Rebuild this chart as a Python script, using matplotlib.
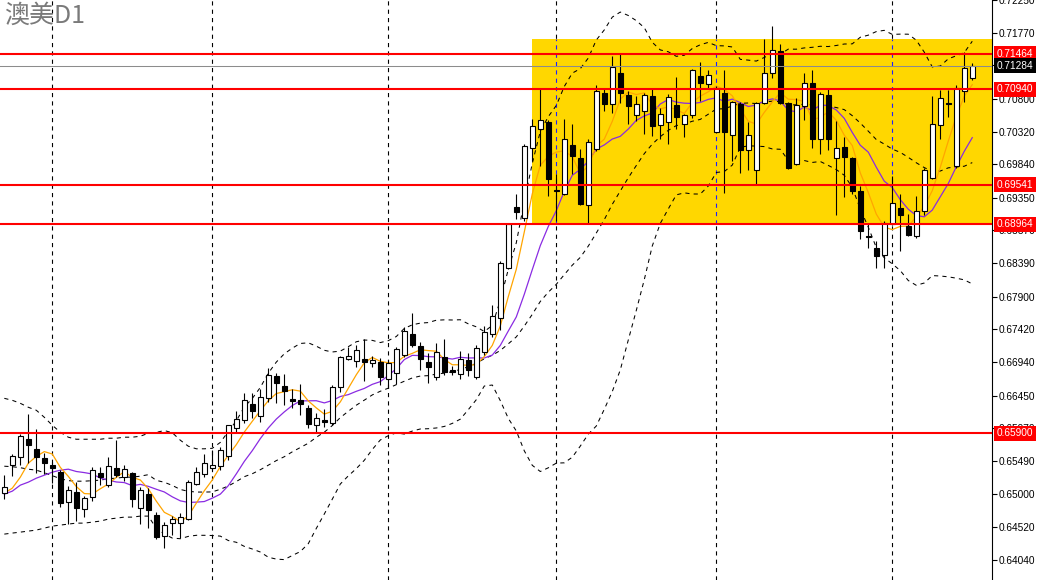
import numpy as np
import pandas as pd
import matplotlib
matplotlib.use("Agg")
import matplotlib.pyplot as plt
from matplotlib.patches import Rectangle

plt.rcParams['font.family'] = ['Noto Sans CJK SC', 'DejaVu Sans']
plt.rcParams['lines.scale_dashes'] = False

title = "澳美D1"

# daily candles, AUDUSD
opens = [0.65018, 0.65428, 0.65546, 0.65809, 0.65663, 0.65531, 0.65428, 0.65326, 0.64887, 0.65033,
         0.64784, 0.64960, 0.65311, 0.65136, 0.65384, 0.65253, 0.65311, 0.64799, 0.65004, 0.64696,
         0.64389, 0.64579, 0.64579, 0.64638, 0.65150, 0.65297, 0.65384, 0.65414, 0.65560, 0.65970,
         0.66087, 0.66321, 0.66146, 0.66409, 0.66731, 0.66585, 0.66395, 0.66380, 0.66263, 0.66014,
         0.66087, 0.66043, 0.66570, 0.66980, 0.66951, 0.66980, 0.66922, 0.66936, 0.66687, 0.66775,
         0.67039, 0.67346, 0.67171, 0.66936, 0.66717, 0.67010, 0.66819, 0.66761, 0.66966, 0.66717,
         0.67083, 0.67346, 0.67580, 0.68327, 0.69220, 0.69059, 0.70084, 0.70362, 0.70465, 0.69469,
         0.69410, 0.70128, 0.69938, 0.69249, 0.70069, 0.70889, 0.70728, 0.71182, 0.70860, 0.70567,
         0.70626, 0.70845, 0.70421, 0.70465, 0.70713, 0.70435, 0.70567, 0.71138, 0.71021, 0.70318,
         0.70889, 0.70274, 0.70728, 0.70055, 0.69762, 0.70743, 0.71182, 0.71504, 0.70743, 0.69850,
         0.70699, 0.71036, 0.70216, 0.70860, 0.69938, 0.70099, 0.69938, 0.69454, 0.68796, 0.68620,
         0.68517, 0.68971, 0.69206, 0.68942, 0.68796, 0.69162, 0.69645, 0.70421, 0.70743, 0.69820,
         0.70918, 0.71109]
highs = [0.65282, 0.65589, 0.65882, 0.66175, 0.65955, 0.65604, 0.65472, 0.65355, 0.65121, 0.65180,
         0.64975, 0.65399, 0.65399, 0.65546, 0.65794, 0.65428, 0.65326, 0.65106, 0.65092, 0.64740,
         0.64594, 0.64682, 0.64726, 0.65209, 0.65399, 0.65589, 0.65648, 0.65692, 0.66014, 0.66219,
         0.66482, 0.66482, 0.66541, 0.66848, 0.66775, 0.66761, 0.66541, 0.66614, 0.66307, 0.66190,
         0.66248, 0.66600, 0.67024, 0.67156, 0.67185, 0.67273, 0.67024, 0.66995, 0.66966, 0.67156,
         0.67449, 0.67654, 0.67229, 0.67068, 0.67214, 0.67273, 0.66878, 0.67097, 0.67068, 0.67185,
         0.67463, 0.67771, 0.68430, 0.68986, 0.69410, 0.70142, 0.70508, 0.70962, 0.70494, 0.69703,
         0.70508, 0.70435, 0.70069, 0.70216, 0.71006, 0.70962, 0.71431, 0.71460, 0.70918, 0.70845,
         0.70889, 0.70962, 0.70670, 0.70874, 0.71123, 0.70582, 0.71240, 0.71343, 0.71226, 0.70992,
         0.71226, 0.70772, 0.70757, 0.70465, 0.70757, 0.71680, 0.71870, 0.71606, 0.70757, 0.70816,
         0.71182, 0.71226, 0.70904, 0.70962, 0.70479, 0.70245, 0.69952, 0.69528, 0.68971, 0.68722,
         0.69015, 0.69674, 0.69410, 0.69118, 0.69381, 0.69791, 0.70845, 0.70933, 0.70933, 0.71006,
         0.71489, 0.71328]
lows = [0.64931, 0.65267, 0.65428, 0.65458, 0.65311, 0.65297, 0.65165, 0.64814, 0.64565, 0.64609,
        0.64667, 0.64901, 0.65136, 0.65106, 0.65253, 0.65194, 0.64814, 0.64565, 0.64506, 0.64345,
        0.64213, 0.64404, 0.64360, 0.64623, 0.65136, 0.65253, 0.65355, 0.65355, 0.65502, 0.65912,
        0.66043, 0.66116, 0.66058, 0.66351, 0.66336, 0.66307, 0.66263, 0.66160, 0.65970, 0.65912,
        0.65985, 0.66014, 0.66497, 0.66966, 0.66863, 0.66658, 0.66863, 0.66600, 0.66570, 0.66614,
        0.67010, 0.67156, 0.66819, 0.66629, 0.66673, 0.66746, 0.66746, 0.66687, 0.66731, 0.66687,
        0.67039, 0.67302, 0.67405, 0.68312, 0.69044, 0.69015, 0.69894, 0.69820, 0.69381, 0.69015,
        0.69396, 0.69703, 0.69249, 0.68971, 0.70040, 0.70626, 0.70596, 0.70743, 0.70435, 0.70479,
        0.70289, 0.70260, 0.70216, 0.70142, 0.70362, 0.70245, 0.70523, 0.70772, 0.70962, 0.70304,
        0.69425, 0.69894, 0.69718, 0.69762, 0.69557, 0.70728, 0.71109, 0.70728, 0.69776, 0.69835,
        0.70494, 0.70084, 0.69996, 0.70055, 0.69103, 0.69367, 0.69410, 0.68752, 0.68620, 0.68327,
        0.68327, 0.68957, 0.68576, 0.68796, 0.68766, 0.69103, 0.69630, 0.70216, 0.70538, 0.69791,
        0.70757, 0.71079]
closes = [0.65106, 0.65560, 0.65853, 0.65721, 0.65546, 0.65458, 0.65384, 0.64872, 0.65062, 0.64799,
          0.64945, 0.65355, 0.65253, 0.65414, 0.65282, 0.65370, 0.64931, 0.65062, 0.64770, 0.64374,
          0.64550, 0.64638, 0.64667, 0.65180, 0.65326, 0.65458, 0.65428, 0.65648, 0.66014, 0.66102,
          0.66380, 0.66219, 0.66424, 0.66746, 0.66629, 0.66512, 0.66365, 0.66321, 0.66029, 0.66116,
          0.66058, 0.66570, 0.67010, 0.67024, 0.67112, 0.66936, 0.66966, 0.66717, 0.66922, 0.67127,
          0.67390, 0.67185, 0.66980, 0.66863, 0.67083, 0.66790, 0.66790, 0.66980, 0.66819, 0.67141,
          0.67376, 0.67610, 0.68400, 0.68971, 0.69147, 0.70113, 0.70406, 0.70494, 0.69630, 0.69454,
          0.70216, 0.69967, 0.69264, 0.70172, 0.70918, 0.70728, 0.71270, 0.70889, 0.70699, 0.70728,
          0.70860, 0.70406, 0.70582, 0.70831, 0.70538, 0.70567, 0.71226, 0.71036, 0.71153, 0.70962,
          0.70318, 0.70757, 0.70055, 0.70274, 0.70743, 0.71182, 0.71519, 0.70743, 0.69791, 0.70713,
          0.71036, 0.70216, 0.70874, 0.70216, 0.70084, 0.69952, 0.69454, 0.68869, 0.68781, 0.68503,
          0.68986, 0.69279, 0.69103, 0.68810, 0.69162, 0.69762, 0.70435, 0.70816, 0.70728, 0.70962,
          0.71255, 0.71284]

# indicator values before enough history is on screen
bb_upper_head = [0.66409, 0.66380, 0.66336, 0.66278, 0.66234, 0.66131, 0.66014, 0.65912, 0.65839, 0.65809,
                 0.65809, 0.65809, 0.65809, 0.65824, 0.65824, 0.65839, 0.65839, 0.65853, 0.65897]
bb_lower_head = [0.64418, 0.64433, 0.64447, 0.64462, 0.64477, 0.64506, 0.64535, 0.64550, 0.64565, 0.64579,
                 0.64579, 0.64594, 0.64609, 0.64638, 0.64652, 0.64667, 0.64667, 0.64682, 0.64682]
ma5_head = [0.65018, 0.65092, 0.65253, 0.65458]
ma10_head = [0.65004, 0.65048, 0.65136, 0.65180, 0.65238, 0.65282, 0.65326, 0.65355, 0.65370]

levels = [0.71464, 0.70940, 0.69541, 0.68964, 0.65900]
bid = 0.71284
box_top = 0.71684
box_bottom = 0.68964
box_start = 66
month_bars = [6, 26, 48, 69, 89, 111]
y_ticks = [0.72250, 0.71770, 0.71290, 0.70800, 0.70320, 0.69840, 0.69350, 0.68870, 0.68390,
           0.67900, 0.67420, 0.66940, 0.66450, 0.65970, 0.65490, 0.65000, 0.64520, 0.64040]

o = np.array(opens)
h = np.array(highs)
l = np.array(lows)
c = np.array(closes)
n = len(c)
x = np.arange(n)

s = pd.Series(c)
ma5 = s.rolling(5).mean().to_numpy()
ma5[:len(ma5_head)] = ma5_head
ma10 = s.rolling(10).mean().to_numpy()
ma10[:len(ma10_head)] = ma10_head
mid = s.rolling(20).mean().to_numpy()
sd = s.rolling(20).std(ddof=0).to_numpy()
upper = mid + 2 * sd
lower = mid - 2 * sd
k0 = len(bb_upper_head)
upper[:k0] = bb_upper_head
lower[:k0] = bb_lower_head
mid[:k0] = (np.array(bb_upper_head) + np.array(bb_lower_head)) / 2

W, H = 1038, 580
fig = plt.figure(figsize=(W / 100, H / 100), dpi=100)
ax = fig.add_axes([0, 0, 991.7 / W, 1])
ax.set_xlim(-0.54, 123.43)
ax.set_ylim(0.63745, 0.72236)

dash = (0, (3, 3))

# yellow zone
ax.add_patch(Rectangle((box_start - 0.05, box_bottom), 100, box_top - box_bottom,
                       facecolor='#FFD700', edgecolor='none', zorder=0.5))

# period separators
for k in month_bars:
    ax.axvline(k, color='black', lw=0.8, ls=dash, zorder=0.3)
    if k >= box_start:
        ax.vlines(k, box_bottom, box_top, color='#1f1fff', lw=0.8, ls=dash, zorder=0.6)

# bollinger bands
for band in (upper, mid, lower):
    ax.plot(x, band, color='black', lw=0.75, ls=dash, zorder=2)

ax.plot(x, ma10, color='#8A2BE2', lw=0.9, zorder=2.2)
ax.plot(x, ma5, color='#FFA500', lw=0.9, zorder=2.3)

# candles
up = c >= o
ax.vlines(x, l, h, color='black', lw=0.8, zorder=3)
bottom = np.minimum(o, c)
height = np.abs(c - o)
ax.bar(x[up], height[up], bottom=bottom[up], width=0.62, facecolor='white',
       edgecolor='black', lw=0.8, zorder=4)
ax.bar(x[~up], height[~up], bottom=bottom[~up], width=0.62, facecolor='black',
       edgecolor='black', lw=0.8, zorder=4)

# horizontal levels
ax.axhline(bid, color='#8c8c8c', lw=0.75, zorder=5)
for v in levels:
    ax.axhline(v, color='red', lw=1.5, zorder=6)

# price axis
for sp in ('top', 'left', 'bottom'):
    ax.spines[sp].set_visible(False)
ax.spines['right'].set_linewidth(0.8)
ax.set_xticks([])
ax.yaxis.tick_right()
ax.set_yticks(y_ticks)
ax.set_yticklabels([f"{v:.5f}" for v in y_ticks], fontfamily='Liberation Sans')
ax.tick_params(axis='y', direction='out', length=3.3, width=0.8, labelsize=7.3, pad=1.5)

def price_tag(v, bg):
    ax.annotate(f"{v:.5f}", xy=(1, v), xycoords=('axes fraction', 'data'),
                xytext=(3.8, 0), textcoords='offset points', va='center', ha='left',
                color='white', fontsize=7.3, fontfamily='Liberation Sans',
                bbox=dict(boxstyle='square,pad=0.25', fc=bg, ec='none'),
                annotation_clip=False, zorder=10)

for v in levels:
    price_tag(v, 'red')
price_tag(bid, 'black')

fig.text(4 / W, 1 - 3 / H, title, ha='left', va='top', fontsize=18, color='#7a7a7a')

fig.savefig('out.png', dpi=100)
